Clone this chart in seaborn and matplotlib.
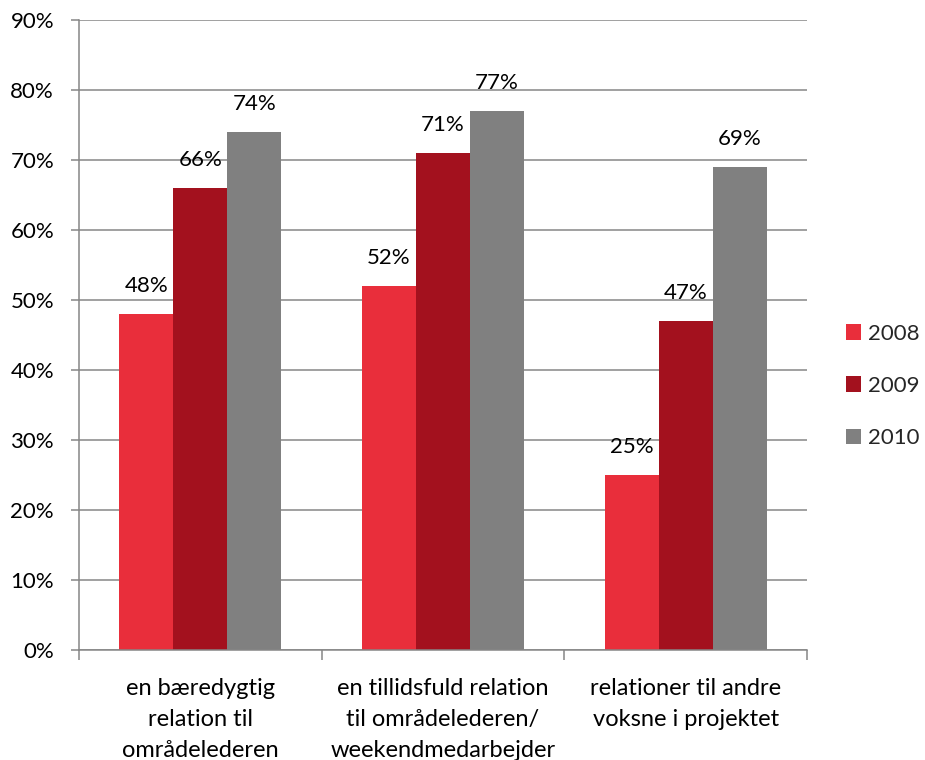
import matplotlib
matplotlib.use("Agg")
import matplotlib.pyplot as plt
import seaborn as sns
import pandas as pd
from matplotlib.ticker import FixedLocator, FuncFormatter

categories = ["en bæredygtig\nrelation til\nområdelederen",
              "en tillidsfuld relation\ntil områdelederen/\nweekendmedarbejder",
              "relationer til andre\nvoksne i projektet"]
years = ["2008", "2009", "2010"]
v2008 = [48, 52, 25]
v2009 = [66, 71, 47]
v2010 = [74, 77, 69]
colors = ["#E92E3B", "#A3111E", "#808080"]

rows = []
for y, vals in zip(years, [v2008, v2009, v2010]):
    for c, v in zip(categories, vals):
        rows.append({"cat": c, "year": y, "val": v})
df = pd.DataFrame(rows)

sns.set_theme(style="white")
plt.rcParams['font.family'] = ['Lato', 'DejaVu Sans']
FS = 16

fig = plt.figure(figsize=(9.25, 7.6), dpi=100)
ax = fig.add_axes([79/925, 110/760, (807-79)/925, (650-20)/760])

sns.barplot(data=df, x="cat", y="val", hue="year", palette=colors, ax=ax,
            width=2/3, gap=0, linewidth=0, saturation=1, errorbar=None)

for cont in ax.containers:
    ax.bar_label(cont, labels=[f"{int(round(b.get_height()))}%" for b in cont],
                 padding=13, fontsize=FS, color="#000000")

ax.set_ylim(0, 90)
ax.set_xlim(-0.5, 2.5)
ax.yaxis.set_major_locator(FixedLocator(range(0, 91, 10)))
ax.yaxis.set_major_formatter(FuncFormatter(lambda v, p: f"{int(v)}%"))
ax.yaxis.grid(True, color="#868686", linewidth=1.1)
ax.set_axisbelow(True)
ax.set_xlabel("")
ax.set_ylabel("")

for s in ["top", "right"]:
    ax.spines[s].set_visible(False)
for s in ["left", "bottom"]:
    ax.spines[s].set_color("#868686")
    ax.spines[s].set_linewidth(1.1)

ax.tick_params(axis="y", which="major", length=6, color="#868686", width=1.1,
               labelsize=FS, labelcolor="#000000", pad=12, left=True)
ax.tick_params(axis="x", which="major", length=0, labelsize=17,
               labelcolor="#000000", pad=20)
ax.set_xticks([-0.5, 0.5, 1.5, 2.5], minor=True)
ax.tick_params(axis="x", which="minor", length=7, color="#868686", width=1.1,
               bottom=True)
for lbl in ax.get_xticklabels():
    lbl.set_linespacing(1.6)

leg = ax.legend(loc="center left", bbox_to_anchor=(1.026, 0.419), frameon=False,
                fontsize=FS, handlelength=0.7, handleheight=0.7,
                handletextpad=0.3, labelspacing=1.45)

fig.savefig("out.png", dpi=100)
